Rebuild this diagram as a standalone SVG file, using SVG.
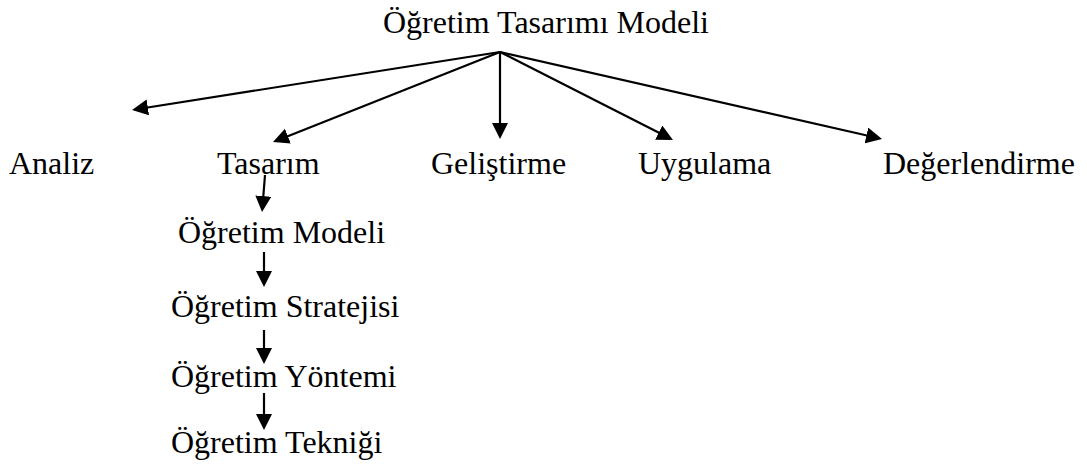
<svg xmlns="http://www.w3.org/2000/svg" width="1087" height="468" viewBox="0 0 1087 468">
<style>
  .t { font-family: 'Liberation Serif', 'Times New Roman', Times, serif; font-size: 32px; fill: #000; }
  .c line { stroke: #000; stroke-width: 2.2; marker-end: url(#ah); }
</style>
<defs>
  <marker id="ah" markerUnits="userSpaceOnUse" markerWidth="17" markerHeight="17" refX="13" refY="8" orient="auto">
    <path d="M0,0 L16,8 L0,16 Z" fill="#000"/>
  </marker>
</defs>
<rect width="1087" height="468" fill="#fff"/>
<g id="connectors" class="c">
  <line x1="500" y1="52" x2="135" y2="109.5"/>
  <line x1="500" y1="52" x2="275.8" y2="140.9"/>
  <line x1="500" y1="52" x2="500" y2="136"/>
  <line x1="500" y1="52" x2="670.3" y2="138.6"/>
  <line x1="500" y1="52" x2="879.1" y2="138.3"/>
  <line x1="265" y1="175" x2="262.3" y2="209"/>
  <line x1="264" y1="252" x2="264" y2="284"/>
  <line x1="264" y1="330" x2="264" y2="361"/>
  <line x1="264" y1="393" x2="264" y2="427"/>
</g>
<g class="t">
<g id="n-model"><text x="383" y="33">Öğretim Tasarımı Modeli</text></g>
<g id="n-analiz"><text x="9" y="174">Analiz</text></g>
<g id="n-tasarim"><text x="217" y="174">Tasarım</text></g>
<g id="n-gelistirme"><text x="431" y="174">Geliştirme</text></g>
<g id="n-uygulama"><text x="638" y="174">Uygulama</text></g>
<g id="n-degerlendirme"><text x="883" y="174">Değerlendirme</text></g>
<g id="n-ogretim-modeli"><text x="178" y="243">Öğretim Modeli</text></g>
<g id="n-ogretim-stratejisi"><text x="171" y="317">Öğretim Stratejisi</text></g>
<g id="n-ogretim-yontemi"><text x="171" y="387">Öğretim Yöntemi</text></g>
<g id="n-ogretim-teknigi"><text x="171" y="453">Öğretim Tekniği</text></g>
</g>
</svg>
